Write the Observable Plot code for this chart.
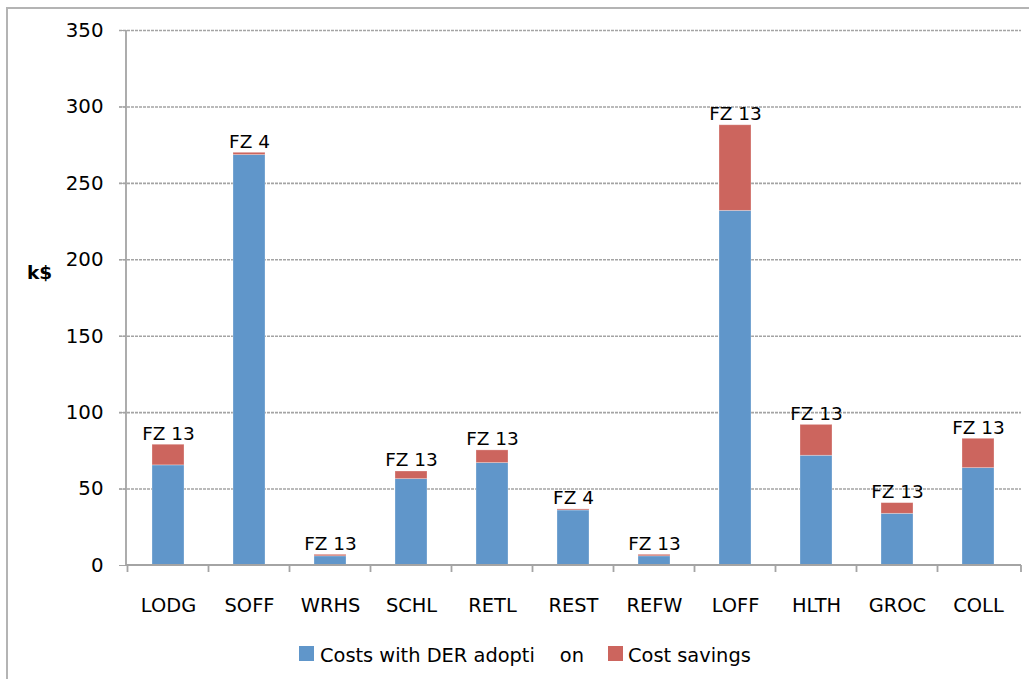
<!DOCTYPE html>
<html><head><meta charset="utf-8">
<script src="https://cdn.jsdelivr.net/npm/d3@7"></script>
<script src="https://cdn.jsdelivr.net/npm/@observablehq/plot@0.6"></script>
<style>
body{margin:0;background:#fff;font-family:"DejaVu Sans",sans-serif;}
#wrap{position:relative;width:1029px;height:679px;overflow:hidden;background:#fff}
#border{position:absolute;left:6px;top:7px;width:1100px;height:800px;border-left:2px solid #b4b4b4;border-top:2px solid #b4b4b4;box-sizing:border-box}
#chart{position:absolute;left:0;top:0}
#ylab{position:absolute;left:27px;top:262px;font-weight:bold;font-size:18.5px;color:#000}
.leg{position:absolute;top:643px;font-size:19.4px;color:#000;white-space:pre;line-height:26px}
.sw{position:absolute;top:646px;width:15px;height:15px}
</style></head>
<body><div id="wrap"><div id="border"></div><div id="chart"></div><div id="ylab">k$</div>
<div class="sw" style="left:299px;background:#6096CA"></div><div class="leg" id="l1" style="left:320px"></div>
<div class="sw" style="left:608px;background:#CC655E"></div><div class="leg" id="l2" style="left:628px"></div>
</div>
<script>
const categories = ["LODG","SOFF","WRHS","SCHL","RETL","REST","REFW","LOFF","HLTH","GROC","COLL"];
const costsWithDER = [65.5, 268.5, 6, 56.5, 67, 36, 6, 232, 71.8, 33.8, 63.7];
const costSavings = [13.5, 1.5, 1, 5, 8.3, 0.7, 1, 56, 20.2, 7, 19.2];
const zoneLabels = ["FZ 13","FZ 4","FZ 13","FZ 13","FZ 13","FZ 4","FZ 13","FZ 13","FZ 13","FZ 13","FZ 13"];
const seriesNames = ["Costs with DER adoption","Cost savings"];
const seriesColors = ["#6096CA","#CC655E"];
const yTicks = [0,50,100,150,200,250,300,350];

// legend (the reference shows a gap inside "adopti  on")
const l1 = document.getElementById("l1");
l1.append("Costs with DER adopti");
const on = document.createElement("span");
on.style.marginLeft = "25px";
on.textContent = "on";
l1.append(on);
document.getElementById("l2").textContent = seriesNames[1];

const rows = [];
categories.forEach((c,i)=>{
  rows.push({cat:c, series:seriesNames[0], value:costsWithDER[i]});
  rows.push({cat:c, series:seriesNames[1], value:costSavings[i]});
});
const totals = categories.map((c,i)=>({cat:c, total:costsWithDER[i]+costSavings[i], label:zoneLabels[i]}));

const font = "'DejaVu Sans', sans-serif";
const plot = Plot.plot({
  width:1029, height:630,
  marginLeft:126, marginRight:8, marginTop:30, marginBottom:65,
  style:{fontFamily:font, fontSize:"18px", color:"#000", background:"transparent", overflow:"visible"},
  x:{domain:categories, paddingInner:0.6, paddingOuter:0.3, label:null},
  y:{domain:[0,350], ticks:yTicks, label:null},
  color:{domain:seriesNames, range:seriesColors},
  marks:[
    Plot.gridY(yTicks.filter(d=>d>0), {stroke:"#a4a4a4", strokeOpacity:1, strokeWidth:1.6, strokeDasharray:"3,1", insetLeft:-7}),
    Plot.axisY({ticks:yTicks, tickSize:7, tickPadding:16, stroke:"#a4a4a4", strokeOpacity:1, fill:"#000", fontSize:19.8}),
    Plot.axisX({tickSize:0, tickPadding:33, fill:"#000", fontSize:19.4}),
    Plot.barY(rows, {x:"cat", y:"value", fill:"series", stroke:"#fff", strokeOpacity:0.35, strokeWidth:0.8}),
    Plot.text(totals, {x:"cat", y:"total", text:"label", dy:-11, fontSize:18.5, fill:"#000"})
  ]
});
document.getElementById("chart").appendChild(plot);

// axis lines and boundary ticks from Plot's own scales
const xs = plot.scale("x"), ys = plot.scale("y");
const svg = d3.select(plot);
const y0 = ys.apply(0), yTop = ys.apply(350);
const [xL, xR] = xs.range;
const g = svg.append("g").attr("stroke","#a4a4a4").attr("stroke-width",1.8);
g.append("line").attr("x1",xL).attr("x2",xL).attr("y1",yTop).attr("y2",y0+1);
g.append("line").attr("x1",xL).attr("x2",xR).attr("y1",y0).attr("y2",y0);
const step = xs.step;
const bounds = categories.map(c=>xs.apply(c) - (step - xs.bandwidth)/2).concat([xR]);
bounds.forEach(b=>g.append("line").attr("x1",b).attr("x2",b).attr("y1",y0).attr("y2",y0+7));
</script>
</body></html>
